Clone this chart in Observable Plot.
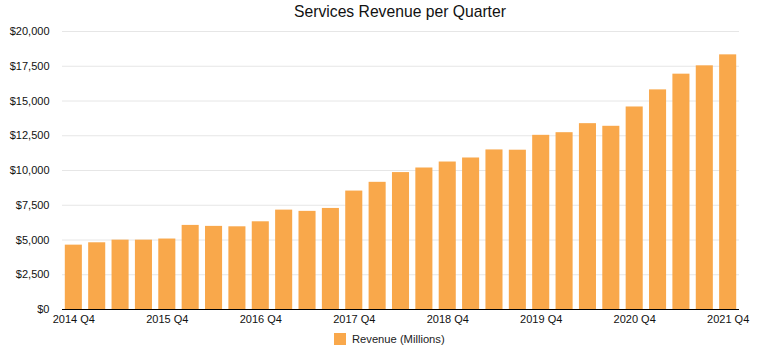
<!DOCTYPE html>
<html>
<head>
<meta charset="utf-8">
<script src="https://cdn.jsdelivr.net/npm/d3@7"></script>
<script src="https://cdn.jsdelivr.net/npm/@observablehq/plot@0.6"></script>
<style>
  body { margin: 0; background: #fff; font-family: "Liberation Sans", Arial, Helvetica, sans-serif; }
  #wrap { width: 771px; }
  #title { width: 771px; height: 24px; line-height: 24px; font-size: 15.7px; color: #111; padding-left: 29px; box-sizing: border-box; text-align: center; }
  #legend { height: 20px; display: flex; align-items: center; justify-content: flex-start; padding-left: 334px; font-size: 11.2px; color: #222; }
  #legend .sw { width: 12px; height: 12px; background: #f9a84b; margin-right: 6px; }
</style>
</head>
<body>
<div id="wrap">
  <div id="title">Services Revenue per Quarter</div>
  <div id="chart"></div>
  <div id="legend"><span class="sw"></span><span>Revenue (Millions)</span></div>
</div>
<script>
const quarters = [
  "2014 Q4","2015 Q1","2015 Q2","2015 Q3","2015 Q4","2016 Q1","2016 Q2","2016 Q3",
  "2016 Q4","2017 Q1","2017 Q2","2017 Q3","2017 Q4","2018 Q1","2018 Q2","2018 Q3",
  "2018 Q4","2019 Q1","2019 Q2","2019 Q3","2019 Q4","2020 Q1","2020 Q2","2020 Q3",
  "2020 Q4","2021 Q1","2021 Q2","2021 Q3","2021 Q4"
];
const revenue = [
  4630, 4800, 4990, 4990, 5070, 6050, 5980, 5950,
  6310, 7150, 7060, 7270, 8520, 9150, 9850, 10180,
  10610, 10900, 11480, 11460, 12530, 12720, 13370, 13180,
  14570, 15800, 16930, 17530, 18320
];
const tickLabels = ["2014 Q4","2015 Q4","2016 Q4","2017 Q4","2018 Q4","2019 Q4","2020 Q4","2021 Q4"];
const yTicks = [0, 2500, 5000, 7500, 10000, 12500, 15000, 17500, 20000];

const data = quarters.map((q, i) => ({quarter: q, revenue: revenue[i]}));

const chart = Plot.plot({
  width: 771,
  height: 305,
  marginTop: 7,
  marginBottom: 20,
  marginLeft: 62,
  marginRight: 32,
  style: {fontFamily: '"Liberation Sans", Arial, Helvetica, sans-serif', fontSize: "11px", color: "#111", background: "#fff"},
  x: {domain: quarters, paddingInner: 0.27, paddingOuter: 0.12, round: false, label: null},
  y: {domain: [0, 20000], label: null},
  marks: [
    Plot.gridY(yTicks, {stroke: "#e6e6e6", strokeOpacity: 1, strokeWidth: 1}),
    Plot.barY(data, {x: "quarter", y: "revenue", fill: "#f9a84b"}),
    Plot.ruleY([0], {stroke: "#000", strokeWidth: 1.2}),
    Plot.axisX({ticks: tickLabels, tickSize: 0, tickPadding: 6, label: null, fontSize: "11px"}),
    Plot.axisY({ticks: yTicks, tickSize: 0, tickPadding: 13, label: null, fontSize: "11px",
      tickFormat: d => "$" + d3.format(",")(d)})
  ]
});
document.getElementById("chart").appendChild(chart);
</script>
</body>
</html>
